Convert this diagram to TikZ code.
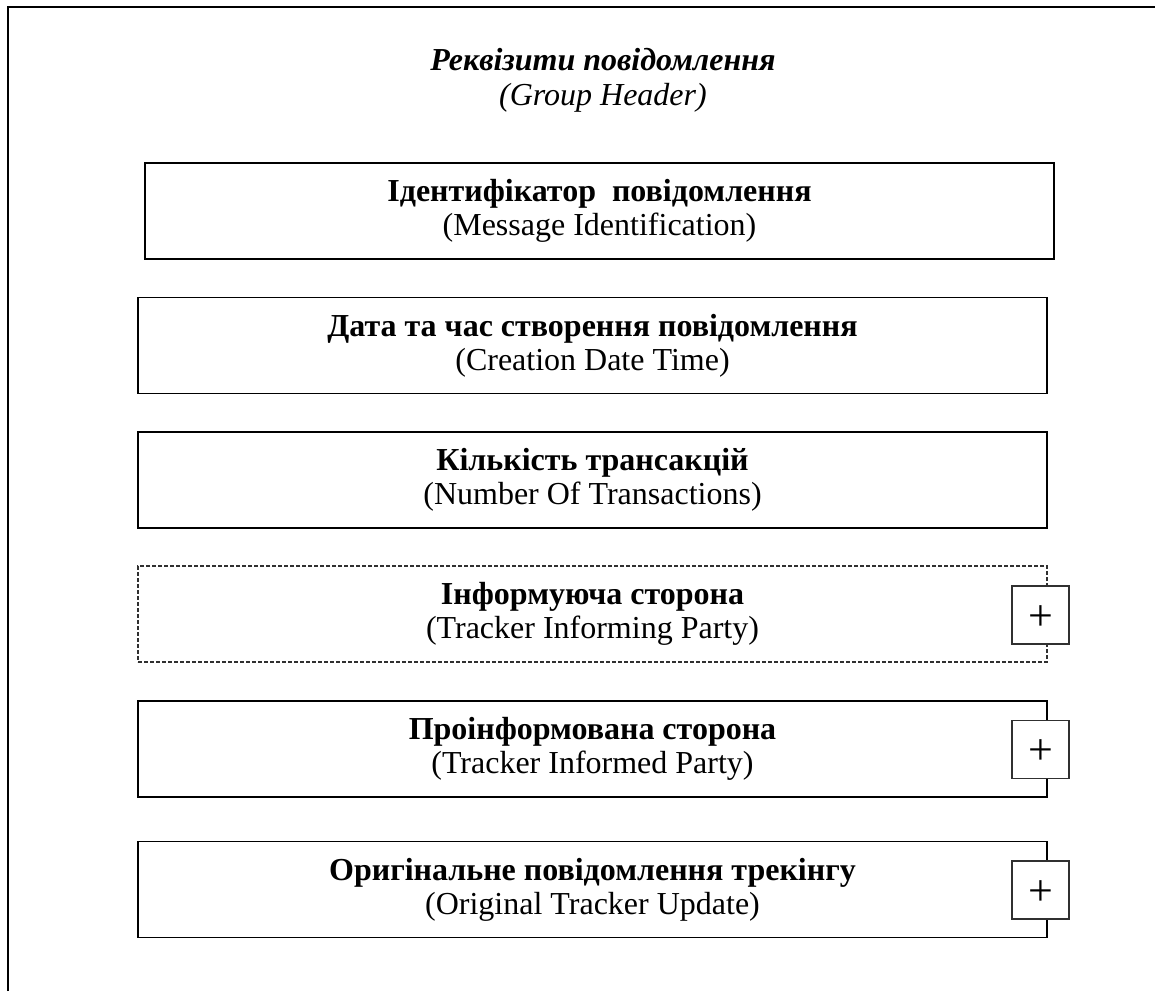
\documentclass[tikz,border=0pt]{standalone}
\usepackage{fontspec}
\setmainfont{Liberation Serif}
\usetikzlibrary{positioning}
\definecolor{ghblack}{HTML}{000000}
\definecolor{ghgrey}{HTML}{303030}
\newcommand{\plusmark}{\raisebox{-1.5pt}[\height][\depth]{+}}
\tikzset{
  frame/.style={draw=ghblack,line width=1pt},
  field/.style={draw=ghblack,line width=0.85pt,minimum width=454.5pt,minimum height=48pt,
                align=center,inner sep=0pt,font=\fontsize{16}{17}\selectfont},
  optfield/.style={field,draw=ghgrey,line width=0.55pt,dash pattern=on 2pt off 1pt},
  plusbox/.style={draw=ghgrey,fill=white,line width=0.6pt,minimum width=28.5pt,
                  minimum height=29pt,inner sep=0pt,font=\fontsize{22}{22}\selectfont},
  hdr/.style={align=center,inner sep=0pt,font=\fontsize{16}{17.5}\selectfont\itshape},
}
\begin{document}
\begin{tikzpicture}[x=0.5pt,y=-0.5pt]
    \useasboundingbox (0,0) rectangle (1155,991);
    \coordinate (fbot) at (8,991);
    \coordinate (ftop) at (1155,7);
    \draw[frame] (fbot) |- (ftop);
    \node[hdr] (head) at (603,80) {\textbf{Реквізити повідомлення}\\(Group Header)};
    \node[field]    (msgid) at (599.5,211)  {\textbf{Ідентифікатор\ \ повідомлення}\\(Message Identification)};
    \node[field]    (crdt)  at (592.5,345.5) {\textbf{Дата та час створення повідомлення}\\(Creation Date Time)};
    \node[field]    (ntx)   at (592.5,480)  {\textbf{Кількість трансакцій}\\(Number Of Transactions)};
    \node[optfield] (infg)  at (592.5,614)  {\textbf{Інформуюча сторона}\\(Tracker Informing Party)};
    \node[field]    (infd)  at (592.5,749)  {\textbf{Проінформована сторона}\\(Tracker Informed Party)};
    \node[field]    (orig)  at (592.5,889.5) {\textbf{Оригінальне повідомлення трекінгу}\\(Original Tracker Update)};
    \node[plusbox]  (pinfg) at (1040.5,615)  {\plusmark};
    \node[plusbox]  (pinfd) at (1040.5,749.5) {\plusmark};
    \node[plusbox]  (porig) at (1040.5,890)  {\plusmark};
  \end{tikzpicture}
\end{document}
